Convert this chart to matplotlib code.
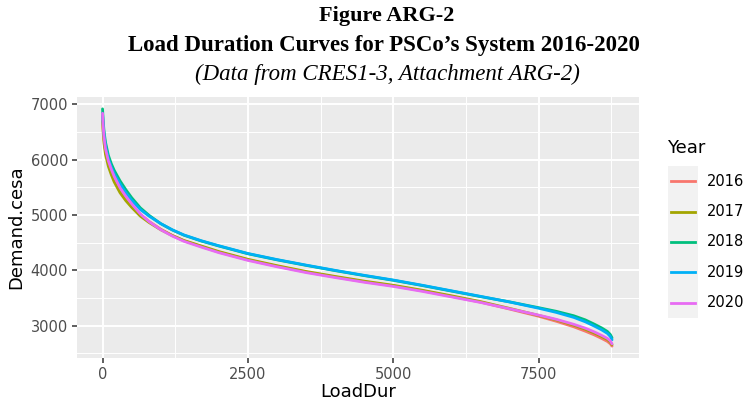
import matplotlib
matplotlib.use("Agg")
import matplotlib.pyplot as plt
from matplotlib.lines import Line2D
from matplotlib.patches import Rectangle
from matplotlib.ticker import MultipleLocator

# ---- data ----
years = ["2016", "2017", "2018", "2019", "2020"]
colors = ["#F8766D", "#A3A500", "#00BF7D", "#00B0F6", "#E76BF3"]

load_dur = [0, 10, 25, 50, 100, 150, 200, 300, 400, 500, 650, 800, 1000,
            1200, 1400, 1700, 2000, 2500, 3000, 3500, 4000, 4500, 5000,
            5500, 6000, 6500, 7000, 7500, 7800, 8100, 8300, 8450, 8580,
            8680, 8730, 8760]

demand_2016 = [6790, 6580, 6370, 6170, 5950, 5800, 5670, 5470, 5320, 5185,
               5012, 4885, 4745, 4630, 4535, 4430, 4330, 4190, 4075, 3970,
               3880, 3795, 3720, 3630, 3530, 3425, 3300, 3170, 3080, 2980,
               2900, 2835, 2770, 2715, 2672, 2630]
demand_2017 = [6700, 6510, 6300, 6100, 5880, 5730, 5600, 5405, 5260, 5140,
               4980, 4865, 4735, 4630, 4540, 4440, 4340, 4200, 4085, 3980,
               3890, 3805, 3730, 3640, 3540, 3435, 3312, 3185, 3105, 3010,
               2935, 2870, 2805, 2750, 2705, 2655]
demand_2018 = [6920, 6720, 6520, 6320, 6080, 5930, 5810, 5620, 5460, 5315,
               5130, 4995, 4845, 4730, 4635, 4530, 4440, 4300, 4190, 4090,
               3995, 3905, 3820, 3725, 3625, 3525, 3430, 3325, 3260, 3180,
               3105, 3030, 2960, 2895, 2840, 2780]
demand_2019 = [6840, 6660, 6460, 6260, 6020, 5870, 5750, 5565, 5405, 5270,
               5100, 4980, 4845, 4733, 4640, 4535, 4445, 4305, 4195, 4095,
               4000, 3910, 3825, 3730, 3630, 3530, 3428, 3315, 3240, 3150,
               3070, 2995, 2925, 2860, 2805, 2745]
demand_2020 = [6840, 6620, 6410, 6200, 5980, 5830, 5700, 5495, 5340, 5205,
               5020, 4880, 4735, 4620, 4525, 4420, 4320, 4180, 4065, 3960,
               3870, 3785, 3710, 3620, 3520, 3420, 3305, 3190, 3115, 3025,
               2955, 2890, 2825, 2770, 2725, 2670]

demands = [demand_2016, demand_2017, demand_2018, demand_2019, demand_2020]

x_ticks = [0, 2500, 5000, 7500]
y_ticks = [3000, 4000, 5000, 6000, 7000]

title1 = "Figure ARG-2"
title2 = "Load Duration Curves for PSCo\u2019s System 2016-2020"
title3 = "(Data from CRES1-3, Attachment ARG-2)"

# ---- figure ----
W, H = 743, 404
fig = plt.figure(figsize=(W / 100, H / 100), dpi=100)
fig.patch.set_facecolor("white")

def fx(px):
    return px / W

def fy(py):
    return 1 - py / H

ax = fig.add_axes([fx(77), fy(358), fx(639) - fx(77), fy(97) - fy(358)])
ax.set_facecolor("#EBEBEB")
for s in ax.spines.values():
    s.set_visible(False)

for yr, c, d in zip(years, colors, demands):
    ax.plot(load_dur, d, color=c, lw=2.0, solid_capstyle="round",
            solid_joinstyle="round", zorder=3)

xmin, xmax = 0, 8784
ymin, ymax = 2630, 6920
xr = xmax - xmin
yr_ = ymax - ymin
ax.set_xlim(xmin - 0.05 * xr, xmax + 0.05 * xr)
ax.set_ylim(ymin - 0.05 * yr_, ymax + 0.05 * yr_)

ax.set_xticks(x_ticks)
ax.set_yticks(y_ticks)
ax.xaxis.set_minor_locator(MultipleLocator(1250))
ax.yaxis.set_minor_locator(MultipleLocator(500))
ax.grid(which="major", color="white", lw=1.4, zorder=0)
ax.grid(which="minor", color="white", lw=0.7, zorder=0)
ax.set_axisbelow(True)
ax.tick_params(which="major", length=3.5, width=1.1, color="#333333",
               labelcolor="#4D4D4D", labelsize=10.5, pad=3)
ax.tick_params(which="minor", length=0)

ax.set_xlabel("LoadDur", fontsize=13, color="black", labelpad=1)
ax.set_ylabel("Demand.cesa", fontsize=13, color="black", labelpad=4)

# titles
fig.text(fx(387), fy(16), title1, ha="center", va="center",
         family="Liberation Serif", fontweight="bold", fontsize=16)
fig.text(fx(384), fy(45), title2, ha="center", va="center",
         family="Liberation Serif", fontweight="bold", fontsize=16.5)
fig.text(fx(387), fy(74), title3, ha="center", va="center",
         family="Liberation Serif", style="italic", fontsize=16.5)

# legend (drawn manually, ggplot style)
fig.text(fx(667), fy(148), "Year", ha="left", va="center", fontsize=13)
key_top = 166
key_h = 30.4
fig.add_artist(Rectangle((fx(668), fy(key_top + key_h * 5)), fx(698) - fx(668),
                         fy(key_top) - fy(key_top + key_h * 5),
                         transform=fig.transFigure, facecolor="#F2F2F2",
                         edgecolor="none"))
for i, (yr, c) in enumerate(zip(years, colors)):
    yc = key_top + key_h * (i + 0.5)
    fig.add_artist(Line2D([fx(671), fx(695)], [fy(yc), fy(yc)],
                          transform=fig.transFigure, color=c, lw=2.0))
    fig.text(fx(707), fy(yc), yr, ha="left", va="center", fontsize=10.5,
             color="black")

fig.savefig("out.png", dpi=100)
